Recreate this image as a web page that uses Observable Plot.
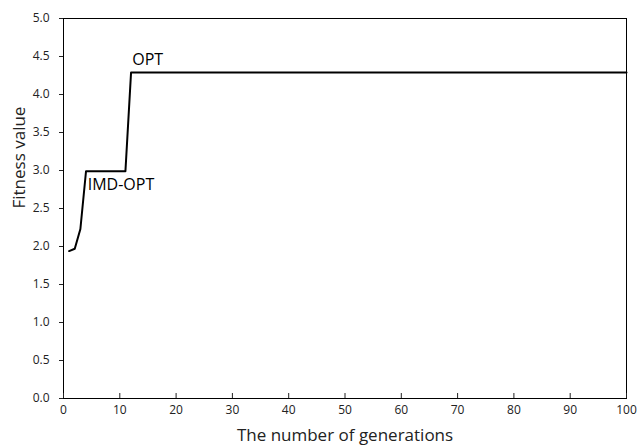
<!DOCTYPE html>
<html><head><meta charset="utf-8">
<script src="https://cdn.jsdelivr.net/npm/d3@7"></script>
<script src="https://cdn.jsdelivr.net/npm/@observablehq/plot@0.6"></script>
<style>body{margin:0;background:#fff;font-family:"Open Sans",sans-serif}</style>
</head><body><div id="chart"></div>
<script>
const generations = [1, 2, 3, 4, 11, 12, 100];
const fitness = [1.94, 1.97, 2.23, 2.99, 2.99, 4.29, 4.29];
const xTicks = [0,10,20,30,40,50,60,70,80,90,100];
const yTicks = [0,0.5,1,1.5,2,2.5,3,3.5,4,4.5,5];
const labels = [{x: 4.3, y: 2.81, text: "IMD-OPT"}, {x: 12.2, y: 4.45, text: "OPT"}];
const data = generations.map((g, i) => ({g, f: fitness[i]}));
const chart = Plot.plot({
  width: 638, height: 448,
  marginLeft: 63, marginRight: 12, marginTop: 18, marginBottom: 50,
  style: {fontFamily: "Open Sans, sans-serif", fontSize: "12px", color: "#222"},
  x: {domain: [0, 100], ticks: xTicks, tickFormat: d => d, label: null},
  y: {domain: [0, 5], ticks: yTicks, tickFormat: d => d.toFixed(1), label: null},
  marks: [
    Plot.frame({stroke: "#000", strokeWidth: 1}),
    Plot.axisX({ticks: xTicks, tickFormat: d => d, tickSize: -5, tickPadding: 12, fontSize: 12}),
    Plot.axisY({ticks: yTicks, tickFormat: d => d.toFixed(1), tickSize: 4, tickPadding: 10, fontSize: 12}),
    Plot.text(["The number of generations"], {frameAnchor: "bottom", dy: 42, fontSize: 17}),
    Plot.text(["Fitness value"], {frameAnchor: "left", dx: -44, rotate: -90, fontSize: 17}),
    Plot.line(data, {x: "g", y: "f", stroke: "#000", strokeWidth: 2}),
    Plot.text(labels, {x: "x", y: "y", text: "text", textAnchor: "start", fontSize: 16, fill: "#000"})
  ]
});
document.getElementById("chart").appendChild(chart);
</script></body></html>
